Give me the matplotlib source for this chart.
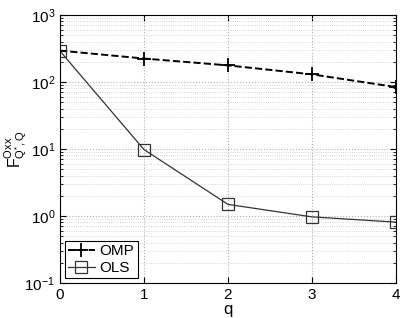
import matplotlib
matplotlib.use("Agg")
import matplotlib.pyplot as plt
from matplotlib.ticker import LogLocator, NullFormatter

plt.rcParams["font.family"] = ["Liberation Sans", "DejaVu Sans"]
plt.rcParams["mathtext.fontset"] = "custom"
plt.rcParams["mathtext.rm"] = "Liberation Sans"
plt.rcParams["mathtext.it"] = "Liberation Sans"

q = [0, 1, 2, 3, 4]
omp = [294, 224, 177, 130, 84]
ols = [290, 9.8, 1.49, 0.97, 0.81]

fig = plt.figure(figsize=(4.09, 3.18), dpi=100)
ax = fig.add_axes([60 / 409, 35 / 318, 336 / 409, 268 / 318])

ax.plot(q, omp, "k--", marker="+", markersize=10, markeredgewidth=1.3, linewidth=1.4, label="OMP")
ax.plot(q, ols, color="#333333", linestyle="-", marker="s", markersize=8, markerfacecolor="none",
        markeredgewidth=0.9, linewidth=0.9, label="OLS")

ax.set_yscale("log")
ax.set_ylim(0.1, 1000)
ax.set_xlim(0, 4)
ax.set_xticks(q)
ax.yaxis.set_major_locator(LogLocator(base=10, numticks=10))
ax.yaxis.set_minor_locator(LogLocator(base=10, subs=range(2, 10), numticks=10))
ax.yaxis.set_minor_formatter(NullFormatter())

ax.grid(True, which="major", linestyle=":", color="#b0b0b0", linewidth=0.8)
ax.grid(True, which="minor", axis="y", linestyle=":", color="#c8c8c8", linewidth=0.6)
ax.tick_params(direction="in", which="both", top=True, right=True, labelsize=11)
ax.tick_params(which="major", length=4)
ax.tick_params(which="minor", length=2)

ax.set_xlabel("q", fontsize=12, labelpad=0)
ax.set_ylabel(r"$\mathrm{F}^{\mathrm{Oxx}}_{\mathrm{Q}^{*},\mathrm{Q}}$", fontsize=11.5)
ax.yaxis.set_label_coords(-0.092, 0.5)

leg = ax.legend(loc="lower left", fontsize=11, fancybox=False, framealpha=1, edgecolor="black",
                handlelength=1.8, handletextpad=0.3, borderpad=0.2, labelspacing=0.2, borderaxespad=0.3)
leg.get_frame().set_linewidth(0.8)

fig.savefig("out.png", dpi=100)
